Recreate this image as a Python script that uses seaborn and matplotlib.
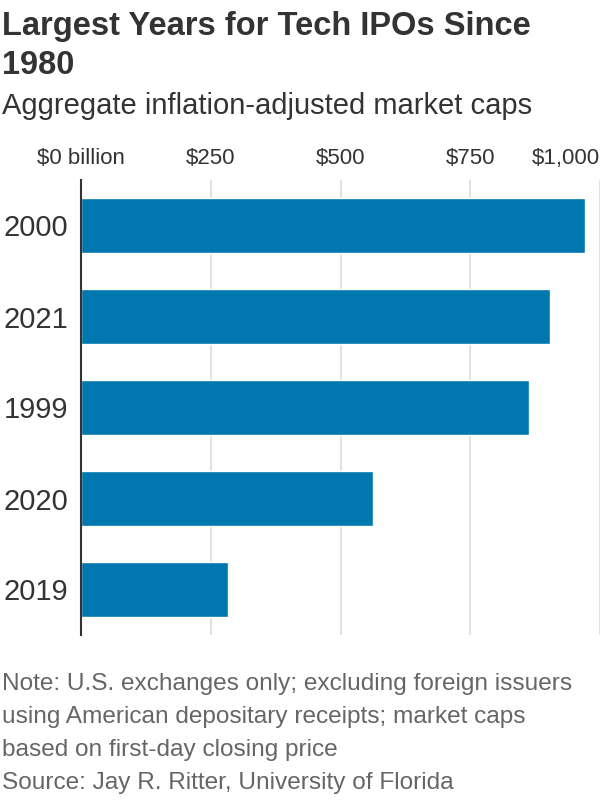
import matplotlib
matplotlib.use('Agg')
import matplotlib.pyplot as plt
import seaborn as sns
import pandas as pd

years = ['2000', '2021', '1999', '2020', '2019']
market_caps = [972, 904, 864, 562, 284]
tick_values = [0, 250, 500, 750, 1000]
tick_labels = ['$0 billion', '$250', '$500', '$750', '$1,000']

title = 'Largest Years for Tech IPOs Since\n1980'
subtitle = 'Aggregate inflation-adjusted market caps'
footer_lines = ['Note: U.S. exchanges only; excluding foreign issuers',
                'using American depositary receipts; market caps',
                'based on first-day closing price',
                'Source: Jay R. Ritter, University of Florida']

df = pd.DataFrame({'year': years, 'cap': market_caps})

sns.set_theme(style='white')
plt.rcParams['font.family'] = ['Liberation Sans', 'DejaVu Sans']

textColor = '#333333'
footColor = '#666666'
barColor = '#0077ae'

fig = plt.figure(figsize=(6, 8), dpi=100)
ax = fig.add_axes([81 / 600, 1 - 635 / 800, 1 - 81 / 600, (635 - 180) / 800])

sns.barplot(data=df, x='cap', y='year', color=barColor, saturation=1, width=0.6, ax=ax, zorder=3)
ax.set_xlim(0, 1000)
ax.set_ylim(4.5, -0.5)
ax.set_xticks(tick_values)
ax.set_xticklabels(tick_labels)
ax.xaxis.tick_top()
ax.tick_params(axis='x', length=0, pad=8, labelsize=16, labelcolor=textColor)
ax.tick_params(axis='y', length=0, pad=9, labelsize=21, labelcolor=textColor)
ax.get_xticklabels()[-1].set_ha('right')
ax.grid(axis='x', color='#dddddd', linewidth=1.2, zorder=0)
for s in ['top', 'right', 'bottom']:
    ax.spines[s].set_visible(False)
ax.spines['left'].set_color('#333333')
ax.spines['left'].set_linewidth(1.5)
ax.spines['left'].set_zorder(5)
ax.set_xlabel('')
ax.set_ylabel('')

#title and subtitle, title lines placed by baseline
for i, line in enumerate(title.split('\n')):
    fig.text(0.003, 1 - (35 + 39 * i) / 800, line, ha='left', va='baseline', fontsize=23.5,
             fontweight='bold', color=textColor)
fig.text(0.003, 1 - 114 / 800, subtitle, ha='left', va='baseline', fontsize=21, color=textColor)

#notes at the bottom, one line at a time
for i, line in enumerate(footer_lines):
    fig.text(0.003, 1 - (690 + 33 * i) / 800, line, ha='left', va='baseline',
             fontsize=17.6, color=footColor)

fig.savefig('out.png', dpi=100)
